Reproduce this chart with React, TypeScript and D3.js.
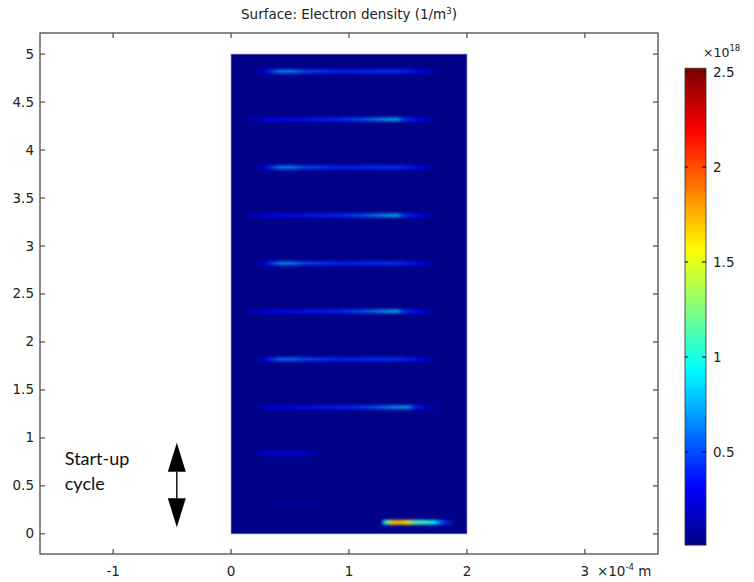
import React from "react";
import * as d3 from "d3";

const W = 754;
const H = 582;

// axis domains (x in 1e-4 m, y in 1e-4 m)
const xDomain = [-1.62, 3.62];
const yDomain = [-0.21, 5.22];
const xTicks = [-1, 0, 1, 2, 3];
const yTicks = [0, 0.5, 1, 1.5, 2, 2.5, 3, 3.5, 4, 4.5, 5];
const yTickLabels = ["0", "0.5", "1", "1.5", "2", "2.5", "3", "3.5", "4", "4.5", "5"];
const rectX = [0, 2];
const rectY = [0, 5];

// colour bar (x 1e18 1/m^3)
const cbDomain = [0, 2.5];
const cbRangeShown = [0.01, 2.52];
const cbTicks = [0.5, 1, 1.5, 2, 2.5];
const cbTickLabels = ["0.5", "1", "1.5", "2", "2.5"];
const jetPos = [0, 0.125, 0.375, 0.625, 0.875, 1];
const jetColors = ["#000080", "#0000ff", "#00ffff", "#ffff00", "#ff0000", "#800000"];

// streaks of electron density: centre height, x samples and values (1e18)
const streakY = [4.82, 4.32, 3.82, 3.32, 2.82, 2.32, 1.82, 1.32, 0.84, 0.33, 0.12];
const streakX = [
  [0.16, 0.3, 0.4, 0.5, 0.62, 0.9, 1.2, 1.4, 1.6, 1.8],
  [0.1, 0.3, 0.6, 0.9, 1.1, 1.28, 1.4, 1.46, 1.6, 1.8],
  [0.16, 0.3, 0.4, 0.5, 0.62, 0.9, 1.2, 1.4, 1.6, 1.8],
  [0.1, 0.3, 0.6, 0.9, 1.1, 1.28, 1.4, 1.46, 1.6, 1.8],
  [0.16, 0.3, 0.4, 0.5, 0.62, 0.9, 1.2, 1.4, 1.6, 1.8],
  [0.1, 0.3, 0.6, 0.9, 1.1, 1.28, 1.4, 1.46, 1.6, 1.8],
  [0.16, 0.3, 0.4, 0.5, 0.62, 0.9, 1.2, 1.4, 1.6, 1.8],
  [0.13, 0.35, 0.7, 1.0, 1.2, 1.38, 1.5, 1.56, 1.65, 1.82],
  [0.16, 0.3, 0.45, 0.6, 0.8],
  [0.22, 0.45, 0.7, 0.9],
  [1.27, 1.31, 1.36, 1.42, 1.5, 1.56, 1.64, 1.72, 1.8, 1.9],
];
const streakV = [
  [0, 0.28, 0.62, 0.66, 0.5, 0.4, 0.42, 0.44, 0.28, 0],
  [0, 0.28, 0.34, 0.4, 0.5, 0.66, 0.75, 0.45, 0.28, 0],
  [0, 0.28, 0.62, 0.66, 0.5, 0.4, 0.42, 0.44, 0.28, 0],
  [0, 0.28, 0.34, 0.4, 0.5, 0.66, 0.75, 0.45, 0.28, 0],
  [0, 0.28, 0.62, 0.66, 0.5, 0.4, 0.42, 0.44, 0.28, 0],
  [0, 0.28, 0.34, 0.4, 0.5, 0.66, 0.75, 0.45, 0.28, 0],
  [0, 0.28, 0.56, 0.6, 0.5, 0.4, 0.42, 0.44, 0.28, 0],
  [0, 0.25, 0.34, 0.4, 0.5, 0.66, 0.72, 0.4, 0.18, 0],
  [0, 0.25, 0.32, 0.22, 0],
  [0, 0.09, 0.08, 0],
  [0, 1.0, 1.65, 1.72, 1.6, 1.15, 1.05, 0.9, 0.45, 0],
];

// annotation
const arrowX = -0.46;
const arrowY = [0.07, 0.95];
const noteX = -1.41;
const noteY = 0.72;
const noteLines = ["Start-up", "cycle"];

const tickFont = "'DejaVu Sans', Verdana, sans-serif";

export default function App() {
  const x = d3.scaleLinear().domain(xDomain).range([40, 658]);
  const y = d3.scaleLinear().domain(yDomain).range([554, 33]);
  const cy = d3.scaleLinear().domain(cbDomain).range([547, 72]);
  const jet = d3
    .scaleLinear<string>()
    .domain(jetPos.map((p) => p * cbDomain[1]))
    .range(jetColors)
    .interpolate(d3.interpolateRgb)
    .clamp(true);

  const x0 = x(xDomain[0]);
  const x1 = x(xDomain[1]);
  const y0 = y(yDomain[0]);
  const y1 = y(yDomain[1]);

  const rx0 = x(rectX[0]);
  const rx1 = x(rectX[1]);
  const ry0 = y(rectY[1]);
  const ry1 = y(rectY[0]);

  const cbX = 685;
  const cbW = 21;
  const cbTop = cy(cbRangeShown[1]);
  const cbBot = cy(cbRangeShown[0]);
  const cbStops = d3.range(0, 41).map((i) => {
    const v = cbRangeShown[0] + ((cbRangeShown[1] - cbRangeShown[0]) * i) / 40;
    return { off: i / 40, color: jet(v) };
  });

  const ax = x(arrowX);
  const aTop = y(arrowY[1]);
  const aBot = y(arrowY[0]);
  const headH = 29;
  const headW = 9;

  const axisColor = "#4a4a4a";

  return (
    <svg
      width={W}
      height={H}
      style={{ position: "absolute", left: 0, top: 0, background: "#fff" }}
      xmlns="http://www.w3.org/2000/svg"
    >
      <defs>
        <clipPath id="domainClip">
          <rect x={rx0} y={ry0} width={rx1 - rx0} height={ry1 - ry0} />
        </clipPath>
        <filter id="blur" x="-10%" y="-400%" width="120%" height="900%">
          <feGaussianBlur stdDeviation="1.8 1.4" />
        </filter>
        <linearGradient id="cbGrad" x1="0" y1="1" x2="0" y2="0">
          {cbStops.map((s, i) => (
            <stop key={i} offset={s.off} stopColor={s.color} />
          ))}
        </linearGradient>
        {streakY.map((sy, i) => {
          const xs = streakX[i];
          const vs = streakV[i];
          const gx1 = x(xs[0]);
          const gx2 = x(xs[xs.length - 1]);
          return (
            <linearGradient
              key={i}
              id={`sg${i}`}
              gradientUnits="userSpaceOnUse"
              x1={gx1}
              y1={0}
              x2={gx2}
              y2={0}
            >
              {xs.map((xv, j) => (
                <stop key={j} offset={(x(xv) - gx1) / (gx2 - gx1)} stopColor={jet(vs[j])} />
              ))}
            </linearGradient>
          );
        })}
      </defs>

      {/* title */}
      <text x={(x0 + x1) / 2} y={19} textAnchor="middle" fontFamily={tickFont} fontSize={13.5} fill="#222">
        Surface: Electron density (1/m
        <tspan dy={-5} fontSize={8.5}>3</tspan>
        <tspan dy={5}>)</tspan>
      </text>

      {/* domain surface */}
      <rect x={rx0} y={ry0} width={rx1 - rx0} height={ry1 - ry0} fill={jet(0.02)} />
      <g clipPath="url(#domainClip)">
        {streakY.map((sy, i) => {
          const xs = streakX[i];
          const vmax = d3.max(streakV[i]) as number;
          const h = vmax > 1 ? 4.5 : 3.5;
          return (
            <rect
              key={i}
              x={x(xs[0])}
              y={y(sy) - h / 2}
              width={x(xs[xs.length - 1]) - x(xs[0])}
              height={h}
              fill={`url(#sg${i})`}
              filter="url(#blur)"
            />
          );
        })}
      </g>
      <rect
        x={rx0}
        y={ry0}
        width={rx1 - rx0}
        height={ry1 - ry0}
        fill="none"
        stroke="#8a8ad0"
        strokeOpacity={0.6}
        strokeWidth={1}
      />

      {/* frame */}
      <rect x={x0} y={y1} width={x1 - x0} height={y0 - y1} fill="none" stroke={axisColor} strokeWidth={1.3} />
      {xTicks.map((t) => (
        <g key={`xt${t}`}>
          <line x1={x(t)} x2={x(t)} y1={y0} y2={y0 - 5} stroke={axisColor} strokeWidth={1.2} />
          <line x1={x(t)} x2={x(t)} y1={y1} y2={y1 + 5} stroke={axisColor} strokeWidth={1.2} />
          <text x={x(t)} y={y0 + 22} textAnchor="middle" fontFamily={tickFont} fontSize={13.5} fill="#222">
            {t}
          </text>
        </g>
      ))}
      <text x={x(3) + 12} y={y0 + 22} fontFamily={tickFont} fontSize={13.5} fill="#222">
        ×10
        <tspan dy={-6} fontSize={8.5}>-4</tspan>
        <tspan dy={6}> m</tspan>
      </text>
      {yTicks.map((t, i) => (
        <g key={`yt${t}`}>
          <line x1={x0} x2={x0 + 5} y1={y(t)} y2={y(t)} stroke={axisColor} strokeWidth={1.2} />
          <line x1={x1} x2={x1 - 5} y1={y(t)} y2={y(t)} stroke={axisColor} strokeWidth={1.2} />
          <text x={x0 - 6} y={y(t) + 4.5} textAnchor="end" fontFamily={tickFont} fontSize={13.5} fill="#222">
            {yTickLabels[i]}
          </text>
        </g>
      ))}

      {/* annotation */}
      {noteLines.map((s, i) => (
        <text
          key={s}
          x={x(noteX)}
          y={y(noteY) + i * 25}
          fontFamily="Lato, 'Open Sans', sans-serif"
          fontSize={18}
          fill="#111"
        >
          {s}
        </text>
      ))}
      <line x1={ax} x2={ax} y1={aTop + headH} y2={aBot - headH} stroke="#111" strokeWidth={1.5} />
      <path d={`M${ax},${aTop} L${ax + headW},${aTop + headH} L${ax - headW},${aTop + headH} Z`} fill="#000" />
      <path d={`M${ax},${aBot} L${ax + headW},${aBot - headH} L${ax - headW},${aBot - headH} Z`} fill="#000" />

      {/* colour bar */}
      <rect x={cbX} y={cbTop} width={cbW} height={cbBot - cbTop} fill="url(#cbGrad)" stroke="#333" strokeWidth={0.8} />
      {cbTicks.map((t, i) => (
        <g key={`cb${t}`}>
          <line x1={cbX} x2={cbX + 3} y1={cy(t)} y2={cy(t)} stroke="#111" strokeWidth={1.2} />
          <line x1={cbX + cbW} x2={cbX + cbW - 4} y1={cy(t)} y2={cy(t)} stroke="#111" strokeWidth={1.2} />
          <text x={cbX + cbW + 7} y={cy(t) + 5} fontFamily={tickFont} fontSize={13.5} fill="#222">
            {cbTickLabels[i]}
          </text>
        </g>
      ))}
      <text x={cbX + 18} y={57} fontFamily={tickFont} fontSize={12.5} fill="#222">
        ×10
        <tspan dy={-6} fontSize={8.5}>18</tspan>
      </text>
    </svg>
  );
}
